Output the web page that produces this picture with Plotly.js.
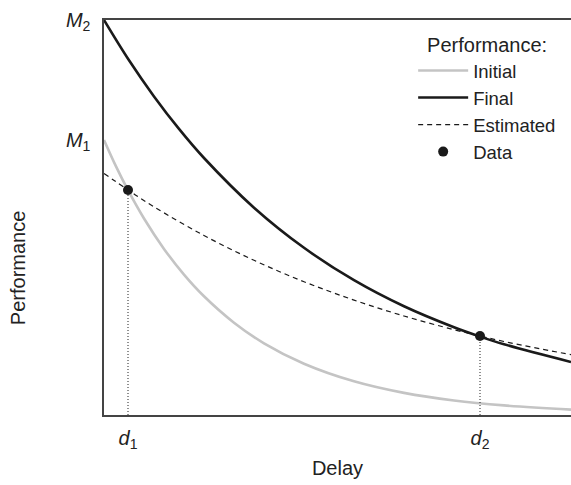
<!DOCTYPE html>
<html><head><meta charset="utf-8">
<script src="https://cdn.plot.ly/plotly-3.0.1.min.js"></script>
<style>html,body{margin:0;padding:0;overflow:hidden;background:#fff}</style>
</head><body><div id="chart" style="width:571px;height:485px"></div>
<script>
// Delay positions (arbitrary units)
const finalX = [0, 25, 50, 75, 100, 150, 200, 250, 300, 350, 376, 400, 467];
const finalY = [395, 354.7, 318.6, 286.1, 257.0, 207.3, 167.2, 134.8, 108.7, 87.7, 78.4, 70.7, 53.0];
const initialX = [0, 12, 24, 40, 60, 80, 100, 130, 160, 200, 250, 300, 350, 400, 467];
const initialY = [275, 248.6, 224.8, 196.5, 166.1, 140.4, 118.7, 92.3, 71.7, 51.3, 33.7, 22.1, 14.5, 9.6, 5.4];
const estX = [0, 24, 50, 100, 150, 200, 250, 300, 350, 376, 400, 467];
const estY = [241.6, 225, 208.2, 179.5, 154.7, 133.3, 114.9, 99.0, 85.3, 79, 73.5, 60.3];
const dataX = [24, 376];
const dataY = [225, 79];
const xTickVals = [24, 376];
const xTickText = ['<i>d</i><sub>1</sub>', '<i>d</i><sub>2</sub>'];
const yTickVals = [275, 395];
const yTickText = ['<i>M</i><sub>1</sub>', '<i>M</i><sub>2</sub>'];
const seriesNames = ['Initial', 'Final', 'Estimated', 'Data'];

const FONT = 'Liberation Sans, Arial, sans-serif';
const TXT = '#222';
const traces = [
  {x: initialX, y: initialY, name: seriesNames[0], mode: 'lines', line: {color: '#c4c4c4', width: 2.6, shape: 'spline'}},
  {x: finalX, y: finalY, name: seriesNames[1], mode: 'lines', line: {color: '#1a1a1a', width: 2.6, shape: 'spline'}},
  {x: estX, y: estY, name: seriesNames[2], mode: 'lines', line: {color: '#1a1a1a', width: 1.2, dash: '5px,4px', shape: 'spline'}},
  {x: dataX, y: dataY, name: seriesNames[3], mode: 'markers', marker: {color: '#1a1a1a', size: 10}},
];
dataX.forEach((dx, i) => {
  traces.push({x: [dx, dx], y: [0, dataY[i]], mode: 'lines', showlegend: false,
    line: {color: '#222', width: 1, dash: '1px,2px'}, hoverinfo: 'skip'});
});

const layout = {
  width: 571, height: 485,
  margin: {l: 104, r: 0, t: 20, b: 70},
  paper_bgcolor: '#fff', plot_bgcolor: '#fff',
  font: {family: FONT, color: TXT, size: 20},
  showlegend: true,
  legend: {
    x: 0.662, y: 0.985, xanchor: 'left', yanchor: 'top',
    bgcolor: 'rgba(0,0,0,0)', font: {size: 18.5, family: FONT, color: TXT},
    title: {text: 'Performance:', side: 'top center', font: {size: 20, family: FONT, color: TXT}},
    traceorder: 'normal', itemwidth: 50
  },
  annotations: [{
    text: 'Performance', xref: 'paper', yref: 'paper', x: -0.184, y: 0.372,
    textangle: -90, showarrow: false, xanchor: 'center', yanchor: 'middle',
    font: {size: 20, family: FONT, color: TXT}
  }],
  xaxis: {
    range: [0, 467], showgrid: false, zeroline: false,
    showline: true, linecolor: '#444', linewidth: 1.6, mirror: true,
    tickmode: 'array', tickvals: xTickVals, ticktext: xTickText, ticks: '',
    ticklabelstandoff: 4,
    tickfont: {size: 20, family: FONT, color: TXT},
    title: {text: 'Delay', font: {size: 20, family: FONT, color: TXT}, standoff: 10}
  },
  yaxis: {
    range: [0, 395], showgrid: false, zeroline: false,
    showline: true, linecolor: '#444', linewidth: 1.6,
    tickmode: 'array', tickvals: yTickVals, ticktext: yTickText, ticks: '',
    ticklabelstandoff: 8,
    tickfont: {size: 20, family: FONT, color: TXT}
  }
};
Plotly.newPlot('chart', traces, layout, {displayModeBar: false, staticPlot: true});
</script></body></html>
